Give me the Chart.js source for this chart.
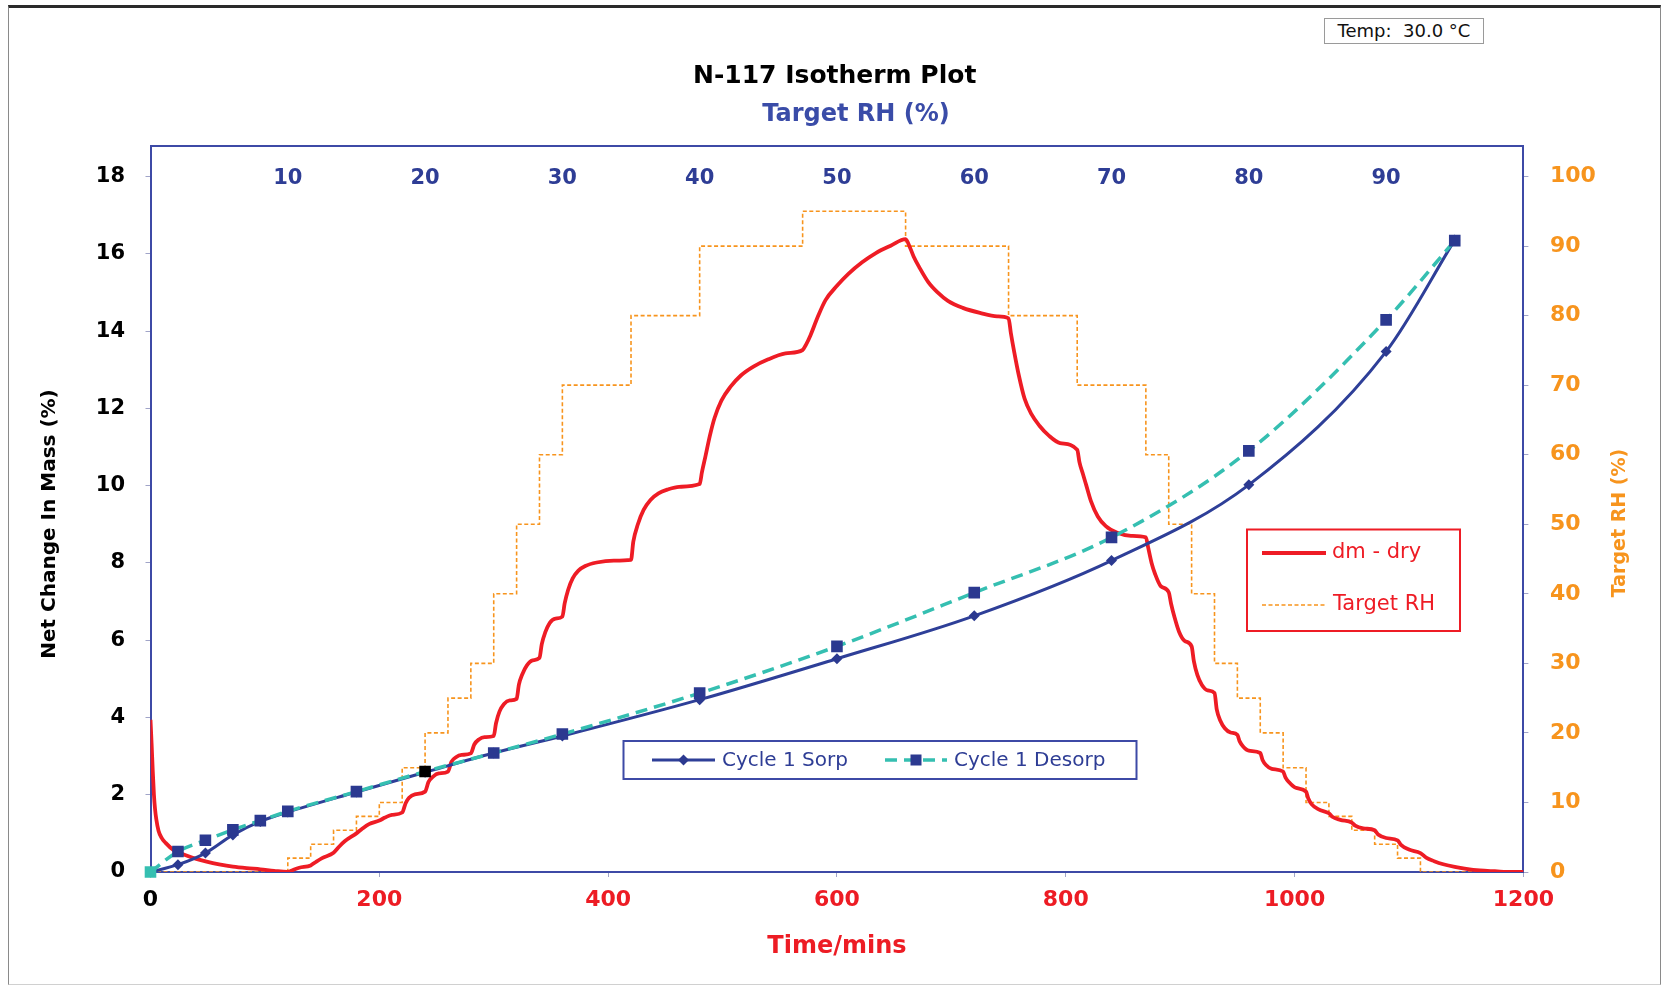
<!DOCTYPE html>
<html><head><meta charset="utf-8">
<script src="https://cdn.jsdelivr.net/npm/chart.js@4.4.1/dist/chart.umd.min.js"></script>
<style>
html,body{margin:0;padding:0;background:#fff;width:1674px;height:987px;overflow:hidden;}
#frame{position:absolute;left:8px;top:5px;width:1651px;height:976px;border-top:3px solid #2a2a2a;border-left:1px solid #8a8a8a;border-right:1px solid #8a8a8a;border-bottom:1px solid #d0d0d0;}
#wrap{position:absolute;left:0;top:0;width:1674px;height:987px;}
#temp{position:absolute;left:1324px;top:18px;width:158px;height:24px;border:1px solid #9a9a9a;font:18px "DejaVu Sans";line-height:24px;text-align:center;color:#111;background:#fff;white-space:pre;}
</style></head>
<body>
<div id="frame"></div>
<div id="wrap"><canvas id="c" width="1674" height="987"></canvas></div>
<div id="temp">Temp:  30.0 °C</div>
<script>
// ---- data ----
const timeMin = [0,1,2,3,4,5,7,10,13,20,26,32,40,49,60,72,84,96,108,120,
125,130,140,145,150,160,165,170,180,185,191,200,205,211,220,
223,226,231,240,243,247,252,260,263,267,272,280,283,287,292,300,
302,305,309,314,320,322,325,329,334,340,342,345,349,354,360,
362,365,369,374,380,390,405,420,
422,426,431,437,444,452,462,480,
482,485,489,493,499,507,516,527,540,555,570,
573,577,583,590,600,610,622,634,647,660,
664,667,672,680,688,697,710,725,740,750,
752,755,759,764,770,777,785,795,810,
812,815,818,822,828,835,845,857,870,
872,875,878,883,890,
892,895,899,904,910,
912,915,919,924,930,
932,935,939,944,950,
952,955,960,970,
972,975,980,990,
992,995,1001,1010,
1012,1015,1021,1030,
1033,1040,1050,
1053,1060,1070,
1073,1080,1090,
1093,1100,1110,
1115,1122,1130,1140,1150,1162,1175,1190,1200];
const massChange = [3.94,3.3,2.6,2.0,1.62,1.38,1.07,0.87,0.76,0.57,0.49,0.42,0.34,0.27,0.2,0.14,0.1,0.07,0.03,0.0,
0.06,0.11,0.17,0.27,0.36,0.5,0.66,0.8,1.0,1.12,1.24,1.33,1.41,1.48,1.54,
1.78,1.92,2.01,2.08,2.33,2.47,2.55,2.6,2.85,2.97,3.03,3.07,3.3,3.43,3.49,3.52,
3.85,4.15,4.35,4.44,4.48,4.85,5.12,5.35,5.48,5.54,5.9,6.2,6.45,6.56,6.61,
6.95,7.3,7.6,7.8,7.92,8.01,8.06,8.08,
8.55,9.0,9.37,9.63,9.8,9.9,9.97,10.04,
10.35,10.75,11.3,11.75,12.2,12.56,12.85,13.08,13.27,13.42,13.51,
13.65,13.9,14.35,14.8,15.17,15.48,15.78,16.02,16.21,16.38,
16.15,15.93,15.65,15.26,15.0,14.78,14.6,14.47,14.38,14.33,
13.95,13.45,12.85,12.25,11.85,11.55,11.3,11.1,10.93,
10.6,10.3,10.0,9.6,9.2,8.95,8.78,8.7,8.66,
8.4,8.0,7.72,7.4,7.24,
6.95,6.6,6.22,5.98,5.84,
5.45,5.1,4.84,4.7,4.63,
4.2,3.92,3.72,3.61,3.55,
3.38,3.25,3.14,3.08,
2.9,2.77,2.67,2.6,
2.45,2.33,2.18,2.08,
1.9,1.75,1.62,1.52,
1.43,1.35,1.28,
1.2,1.13,1.08,
0.97,0.88,0.82,
0.7,0.58,0.49,
0.37,0.28,0.2,0.13,0.08,0.04,0.02,0.0,0.0];

const rhStepTime = [0,120,140,160,180,200,220,240,260,280,300,320,340,360,420,480,570,660,750,810,870,890,910,930,950,970,990,1010,1030,1050,1070,1090,1110,1200];
const rhStepValue = [0,2,4,6,8,10,15,20,25,30,40,50,60,70,80,90,95,90,80,70,60,50,40,30,25,20,15,10,8,6,4,2,0,0];

const isoRH = [0,2,4,6,8,10,15,20,25,30,40,50,60,70,80,90,95];
const sorpMass = [0,0.19,0.49,0.96,1.31,1.55,2.07,2.58,3.08,3.52,4.46,5.52,6.63,8.06,10.02,13.47,16.36];
const desorpMass = [0,0.53,0.82,1.09,1.33,1.57,2.08,2.6,3.08,3.57,4.63,5.84,7.23,8.66,10.9,14.29,16.34];

const timeTicks = {min:0, max:1200, step:200};
const rhTopTicks = {min:0, max:100, step:10};
const massTicks = {min:0, max:18.79, step:2};
const rhRightTicks = {min:0, max:104.39, step:10};

// ---- styles ----
const FONT = 'DejaVu Sans';
const FRAME = '#3d4aa6';
const RED = '#ee1c25';
const ORANGE = '#f7941d';
const NAVY = '#2b3990';
const TEAL = '#35bfb1';
const TICKC = '#a0a4c8';

const decorPlugin = {
  id: 'decor',
  afterDraw(chart) {
    const ctx = chart.ctx;
    const ds = chart.data.datasets;
    const find = l => ds.find(d => d.label === l);
    const ca = chart.chartArea;
    ctx.save();
    ctx.textAlign = 'center';
    ctx.textBaseline = 'middle';

    // top axis title
    ctx.font = 'bold 24px "' + FONT + '"';
    ctx.fillStyle = '#3a4ca8';
    ctx.fillText('Target RH (%)', 856, 115);

    // left axis title
    ctx.save();
    ctx.translate(chart.scales.y.left + 16, (ca.top + ca.bottom) / 2 + 15);
    ctx.rotate(-Math.PI / 2);
    ctx.font = 'bold 20px "' + FONT + '"';
    ctx.fillStyle = '#000';
    ctx.fillText('Net Change In Mass (%)', 0, 0);
    ctx.restore();

    // right axis title (reads bottom-to-top)
    ctx.save();
    ctx.translate(chart.scales.y2.right - 15.5, (ca.top + ca.bottom) / 2 + 14);
    ctx.rotate(-Math.PI / 2);
    ctx.font = 'bold 19px "' + FONT + '"';
    ctx.fillStyle = ORANGE;
    ctx.fillText('Target RH (%)', 0, 0);
    ctx.restore();

    ctx.textAlign = 'left';
    // legend 1: isotherms
    ctx.fillStyle = '#fff';
    ctx.fillRect(623.5, 741, 513, 38);
    ctx.strokeStyle = FRAME; ctx.lineWidth = 2;
    ctx.strokeRect(623.5, 741, 513, 38);
    const s = find('Cycle 1 Sorp'), d = find('Cycle 1 Desorp');
    const ly = 760;
    ctx.setLineDash([]);
    ctx.strokeStyle = s.borderColor; ctx.lineWidth = s.borderWidth;
    ctx.beginPath(); ctx.moveTo(652, ly); ctx.lineTo(715, ly); ctx.stroke();
    ctx.fillStyle = NAVY; ctx.beginPath();
    ctx.moveTo(683.5-5.5, ly); ctx.lineTo(683.5, ly-5.5); ctx.lineTo(683.5+5.5, ly); ctx.lineTo(683.5, ly+5.5); ctx.closePath(); ctx.fill();
    ctx.font = '20px "' + FONT + '"'; ctx.fillStyle = '#2e3d95';
    ctx.fillText(s.label, 722, ly + 1);
    ctx.strokeStyle = d.borderColor; ctx.lineWidth = d.borderWidth;
    ctx.setLineDash(d.borderDash);
    ctx.beginPath(); ctx.moveTo(885, ly); ctx.lineTo(947, ly); ctx.stroke();
    ctx.setLineDash([]);
    ctx.fillStyle = NAVY; ctx.fillRect(916 - 5.5, ly - 5.5, 11, 11);
    ctx.fillStyle = '#2e3d95';
    ctx.fillText(d.label, 954, ly + 1);

    // legend 2: kinetics
    ctx.fillStyle = '#fff';
    ctx.fillRect(1247, 529.5, 213, 101.5);
    ctx.strokeStyle = RED; ctx.lineWidth = 2;
    ctx.strokeRect(1247, 529.5, 213, 101.5);
    const m = find('dm - dry'), r = find('Target RH');
    ctx.strokeStyle = m.borderColor; ctx.lineWidth = m.borderWidth;
    ctx.beginPath(); ctx.moveTo(1262, 553); ctx.lineTo(1326, 553); ctx.stroke();
    ctx.strokeStyle = r.borderColor; ctx.lineWidth = r.borderWidth;
    ctx.setLineDash(r.borderDash);
    ctx.beginPath(); ctx.moveTo(1262, 605); ctx.lineTo(1326, 605); ctx.stroke();
    ctx.setLineDash([]);
    ctx.font = '21px "' + FONT + '"'; ctx.fillStyle = RED;
    ctx.fillText(m.label, 1332, 553);
    ctx.fillText(r.label, 1333, 605);
    ctx.restore();
  }
};

const tickFont = sz => ({family: FONT, size: sz, weight: 'bold'});

new Chart(document.getElementById('c'), {
  type: 'line',
  data: {
    datasets: [
      {
        label: 'Cycle 1 Desorp', xAxisID: 'x2', yAxisID: 'y', order: 0,
        data: isoRH.map((v, i) => ({x: v, y: desorpMass[i]})),
        borderColor: TEAL, borderWidth: 3.5, borderDash: [12, 7],
        cubicInterpolationMode: 'monotone',
        pointStyle: 'rect', pointRadius: 8.2, pointBorderWidth: 0,
        pointBackgroundColor: isoRH.map(v => v === 20 ? '#000' : (v === 0 ? TEAL : NAVY)),
        pointBorderColor: isoRH.map(v => v === 20 ? '#000' : (v === 0 ? TEAL : NAVY)),
        clip: 10
      },
      {
        label: 'Cycle 1 Sorp', xAxisID: 'x2', yAxisID: 'y', order: 1,
        data: isoRH.map((v, i) => ({x: v, y: sorpMass[i]})),
        borderColor: '#2e3f98', borderWidth: 3,
        cubicInterpolationMode: 'monotone',
        pointStyle: 'rectRot', pointRadius: 5.5, pointBorderWidth: 0,
        pointBackgroundColor: isoRH.map(v => v === 0 ? '#000' : NAVY),
        pointBorderColor: isoRH.map(v => v === 0 ? '#000' : NAVY),
        clip: 10
      },
      {
        label: 'dm - dry', xAxisID: 'x', yAxisID: 'y', order: 2,
        data: timeMin.map((t, i) => ({x: t, y: massChange[i]})),
        borderColor: RED, borderWidth: 3.8, pointRadius: 0,
        cubicInterpolationMode: 'monotone'
      },
      {
        label: 'Target RH', xAxisID: 'x', yAxisID: 'y2', order: 3,
        data: rhStepTime.map((t, i) => ({x: t, y: rhStepValue[i]})),
        borderColor: ORANGE, borderWidth: 1.6, borderDash: [4, 2.5],
        pointRadius: 0, stepped: true
      }
    ]
  },
  options: {
    responsive: false,
    animation: false,
    events: [],
    layout: {padding: {left: 34, right: 38.6, top: 0, bottom: 21.6}},
    plugins: {
      legend: {display: false},
      tooltip: {enabled: false},
      title: {
        display: true, text: 'N-117 Isotherm Plot', color: '#000',
        font: {family: FONT, size: 25, weight: 'bold'},
        padding: {top: 61, bottom: 6.2}
      }
    },
    scales: {
      x: {
        type: 'linear', position: 'bottom',
        min: timeTicks.min, max: timeTicks.max,
        ticks: {
          stepSize: timeTicks.step, padding: 10, maxRotation: 0, autoSkip: false,
          color: c => (c.tick && c.tick.value === 0) ? '#000' : '#ed1c24',
          font: tickFont(22),
          callback: v => String(v)
        },
        grid: {display: true, drawOnChartArea: false, drawTicks: true, tickLength: 5, color: TICKC},
        border: {display: true, color: FRAME, width: 2},
        title: {display: true, text: 'Time/mins', color: '#ed1c24', font: {family: FONT, size: 24, weight: 'bold'}, padding: {top: 4, bottom: 4}},
        afterFit: s => { s.height = 93.4; }
      },
      x2: {
        type: 'linear', position: 'top',
        min: rhTopTicks.min, max: rhTopTicks.max,
        ticks: {
          stepSize: rhTopTicks.step, padding: 20.2, maxRotation: 0, autoSkip: false, mirror: true,
          color: '#2e3d95', font: tickFont(21),
          callback: v => (v === rhTopTicks.min || v === rhTopTicks.max) ? '' : String(v)
        },
        grid: {display: true, drawOnChartArea: false, drawTicks: false, color: TICKC},
        border: {display: true, color: FRAME, width: 2},
        title: {display: false},
        afterFit: s => { s.height = 48.8; }
      },
      y: {
        type: 'linear', position: 'left',
        min: massTicks.min, max: massTicks.max,
        ticks: {stepSize: massTicks.step, includeBounds: false, padding: 20.5, color: '#000', font: tickFont(21), autoSkip: false},
        grid: {display: true, drawOnChartArea: false, drawTicks: true, tickLength: 5, color: TICKC},
        border: {display: true, color: FRAME, width: 2},
        title: {display: false},
        afterFit: s => { s.width = 116.5; }
      },
      y2: {
        type: 'linear', position: 'right',
        min: rhRightTicks.min, max: rhRightTicks.max,
        ticks: {stepSize: rhRightTicks.step, includeBounds: false, padding: 21.5, color: ORANGE, font: tickFont(22), autoSkip: false},
        grid: {display: true, drawOnChartArea: false, drawTicks: true, tickLength: 5, color: TICKC},
        border: {display: true, color: FRAME, width: 2},
        title: {display: false},
        afterFit: s => { s.width = 112; }
      }
    }
  },
  plugins: [decorPlugin]
});
</script>
</body></html>
